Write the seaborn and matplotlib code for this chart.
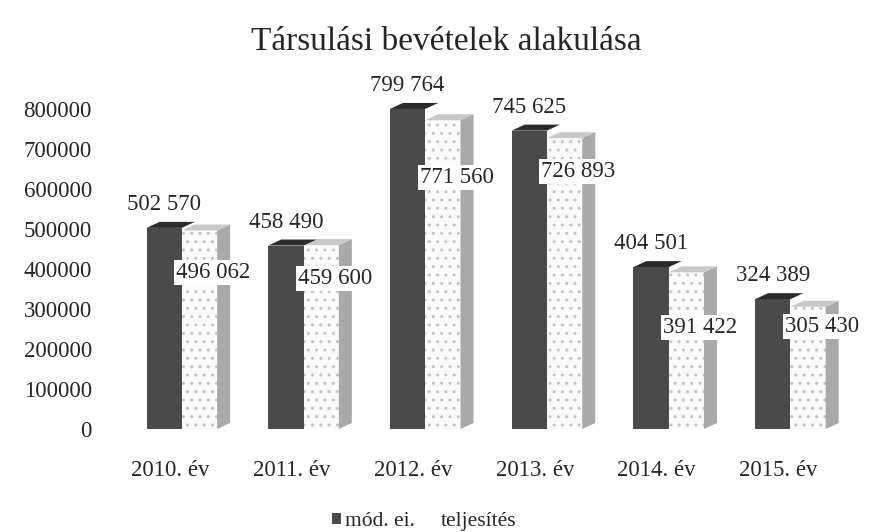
# Társulási bevételek alakulása - 3D-ish grouped columns
import seaborn as sns
import pandas as pd
import matplotlib.pyplot as plt
from matplotlib.patches import Polygon, Patch
from matplotlib.transforms import ScaledTranslation

# data
years = ['2010. év', '2011. év', '2012. év', '2013. év', '2014. év', '2015. év']
mod_ei = [502570, 458490, 799764, 745625, 404501, 324389]
teljesites = [496062, 459600, 771560, 726893, 391422, 305430]
series_names = ['mód. ei.', 'teljesítés']

# Excel pushed the inner labels down by different amounts (points below bar top)
inner_drop = [30, 24, 41, 24, 40, 14]

df = pd.DataFrame({
    'ev': years * 2,
    'ertek': mod_ei + teljesites,
    'sorozat': [series_names[0]] * len(years) + [series_names[1]] * len(years),
})

sns.set_theme(style="white")
plt.rcParams['font.family'] = ['Liberation Serif', 'DejaVu Serif']

fig = plt.figure(figsize=(8.83, 5.32), dpi=100)
ax = fig.add_axes([0.137, 0.1936, 0.827, 0.677])

sns.barplot(
    data=df, x='ev', y='ertek', hue='sorozat',
    palette={'mód. ei.': '#4a4a4a', 'teljesítés': '#fbfbfb'},
    width=0.58, gap=0, legend=False, ax=ax, zorder=3,
)

ax.set_ylim(0, 900000)
ax.set_xlim(-0.5, 5.5)
ax.set_yticks(range(0, 800001, 100000))
ax.set_xlabel('')
ax.set_ylabel('')
sns.despine(ax=ax, left=True, bottom=True)
ax.tick_params(axis='both', length=0, labelsize=16.5)
ax.tick_params(axis='y', pad=21)
ax.tick_params(axis='x', pad=22)
shift = ScaledTranslation(-0.12, 0, fig.dpi_scale_trans)
for lab in ax.get_xticklabels():
    lab.set_transform(lab.get_transform() + shift)

# fake depth: top and right side faces
dx, dy = 0.107, 15000
dark_bars, light_bars = ax.containers[0], ax.containers[1]

for bar in light_bars:
    x0, w, h = bar.get_x(), bar.get_width(), bar.get_height()
    x1 = x0 + w
    bar.set_edgecolor('#c4c4c4')
    bar.set_linewidth(0)
    bar.set_hatch('..')
    ax.add_patch(Polygon([(x1, 0), (x1 + dx, dy), (x1 + dx, h + dy), (x1, h)],
                         closed=True, facecolor='#a9a9a9', edgecolor='none', zorder=3))
    ax.add_patch(Polygon([(x0, h), (x1, h), (x1 + dx, h + dy), (x0 + dx, h + dy)],
                         closed=True, facecolor='#c9c9c9', edgecolor='none', zorder=3))

for bar in dark_bars:
    x0, w, h = bar.get_x(), bar.get_width(), bar.get_height()
    x1 = x0 + w
    bar.set_linewidth(0)
    ax.add_patch(Polygon([(x0, h), (x1, h), (x1 + dx, h + dy), (x0 + dx, h + dy)],
                         closed=True, facecolor='#2b2b2b', edgecolor='none', zorder=4))

# value labels
def fmt(v):
    return f"{v:,}".replace(',', ' ')

for bar, v in zip(dark_bars, mod_ei):
    ax.annotate(fmt(v), (bar.get_x() + bar.get_width() / 2, v + dy),
                xytext=(0, 5), textcoords='offset points',
                ha='center', va='bottom', fontsize=16.5, zorder=6)

for bar, v, drop in zip(light_bars, teljesites, inner_drop):
    ax.annotate(fmt(v), (bar.get_x() + bar.get_width() / 2, v),
                xytext=(10, -drop), textcoords='offset points',
                ha='center', va='center', fontsize=16.5, zorder=6,
                bbox=dict(facecolor='white', edgecolor='none', pad=1.5))

fig.suptitle('Társulási bevételek alakulása', fontsize=24, x=0.505, y=0.95)

handles = [Patch(facecolor='#4a4a4a', edgecolor='none'),
           Patch(facecolor='white', edgecolor='none')]
fig.legend(handles, series_names, loc='lower center', bbox_to_anchor=(0.48, -0.035),
           ncol=2, frameon=False, fontsize=15.5, handlelength=0.45, handleheight=0.45,
           handletextpad=0.15, columnspacing=0.6)

fig.savefig('out.png', dpi=100)
